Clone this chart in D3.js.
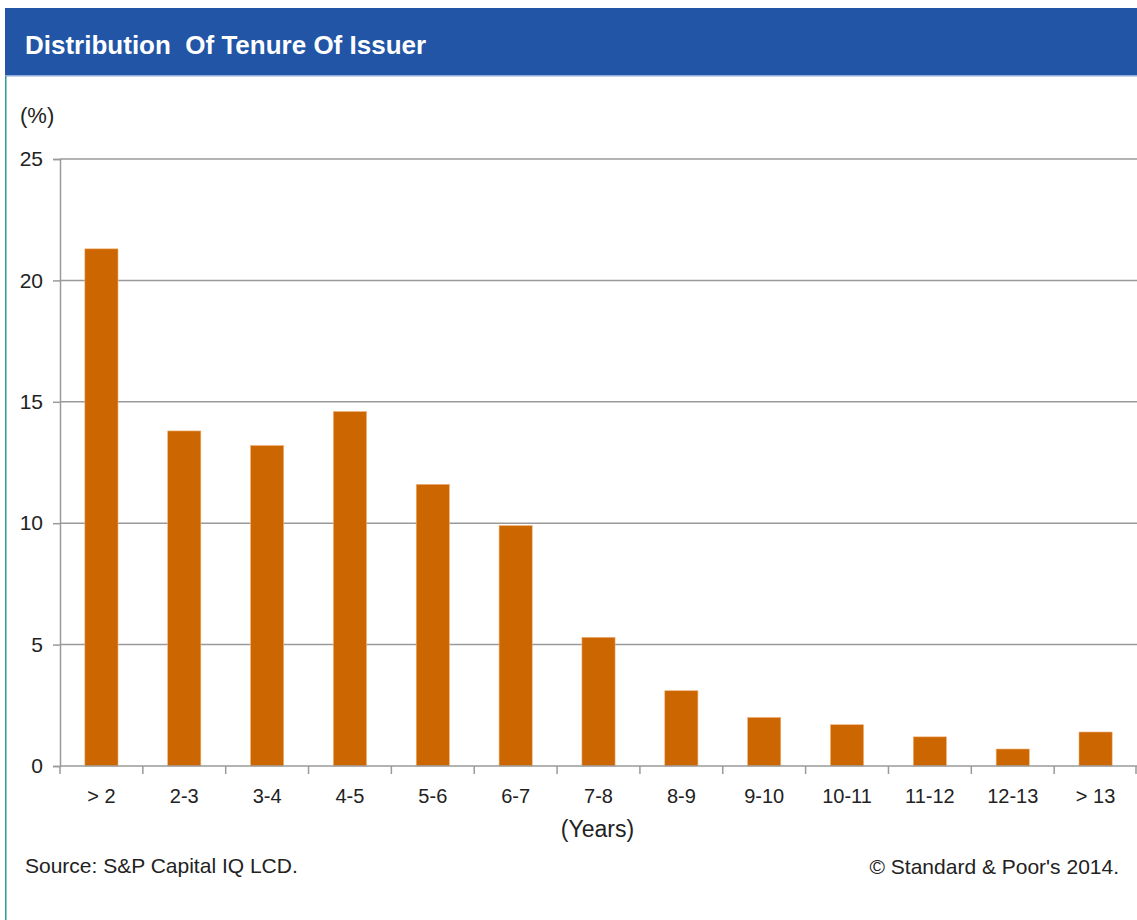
<!DOCTYPE html>
<html>
<head>
<meta charset="utf-8">
<script src="https://cdn.jsdelivr.net/npm/d3@7"></script>
<style>
  html, body { margin: 0; padding: 0; background: #fff; }
  svg { display: block; }
  text { font-family: "Liberation Sans", Arial, sans-serif; fill: #222; }
</style>
</head>
<body>
<svg id="chart" width="1137" height="920"></svg>
<script>
// Tenure buckets (years) and share of issuers (%)
const categories = ["> 2", "2-3", "3-4", "4-5", "5-6", "6-7", "7-8", "8-9", "9-10", "10-11", "11-12", "12-13", "> 13"];
const shares = [21.3, 13.8, 13.2, 14.6, 11.6, 9.9, 5.3, 3.1, 2.0, 1.7, 1.2, 0.7, 1.4];
const yTicks = [0, 5, 10, 15, 20, 25];

const titleText = "Distribution\u00A0 Of Tenure Of Issuer";
const unitText = "(%)";
const xTitleText = "(Years)";
const sourceText = "Source: S&P Capital IQ LCD.";
const copyrightText = "\u00A9 Standard & Poor's 2014.";

const W = 1137, H = 920;
const svg = d3.select("#chart");

// Header band
svg.append("rect").attr("x", 5).attr("y", 8).attr("width", W - 5).attr("height", 67).attr("fill", "#2255a5");
svg.append("rect").attr("x", 5).attr("y", 75).attr("width", W - 5).attr("height", 1.5).attr("fill", "#8eaadb");
svg.append("text").attr("x", 25).attr("y", 54)
  .attr("font-size", 26).attr("font-weight", "bold").style("fill", "#fff")
  .text(titleText);

// Left frame line
svg.append("rect").attr("x", 5).attr("y", 76).attr("width", 1.5).attr("height", H - 76).attr("fill", "#2a9a9a");

const plot = { left: 60, right: 1137, top: 159, bottom: 766 };

const x = d3.scaleBand().domain(categories)
  .range([plot.left, plot.right]).paddingInner(0.6).paddingOuter(0.3);
const y = d3.scaleLinear().domain([0, 25]).range([plot.bottom, plot.top]);

// Horizontal gridlines
svg.append("g").selectAll("line").data(yTicks.filter(d => d > 0)).join("line")
  .attr("x1", plot.left).attr("x2", plot.right)
  .attr("y1", d => y(d)).attr("y2", d => y(d))
  .attr("stroke", "#9a9a9a").attr("stroke-width", 1.5);

// Y axis
const yAxis = svg.append("g").attr("transform", `translate(${plot.left},0)`)
  .call(d3.axisLeft(y).tickValues(yTicks).tickSize(7).tickPadding(10).tickFormat(d3.format("d")));
yAxis.select(".domain").attr("stroke", "#9a9a9a").attr("stroke-width", 1.5);
yAxis.selectAll(".tick line").attr("stroke", "#9a9a9a").attr("stroke-width", 1.5);
yAxis.selectAll(".tick text").attr("font-size", 21).attr("font-family", "Liberation Sans, Arial, sans-serif").style("fill", "#222");

// Bars
svg.append("g").selectAll("rect").data(categories).join("rect")
  .attr("x", d => x(d))
  .attr("width", x.bandwidth())
  .attr("y", (d, i) => y(shares[i]))
  .attr("height", (d, i) => y(0) - y(shares[i]))
  .attr("fill", "#cc6600")
  .attr("stroke", "#f2b27a").attr("stroke-width", 0.6);

// X axis: baseline, category boundary ticks and labels
const gap = (x.step() - x.bandwidth()) / 2;
const bounds = categories.map(c => x(c) - gap).concat([plot.right]);
svg.append("line").attr("x1", plot.left).attr("x2", plot.right)
  .attr("y1", y(0)).attr("y2", y(0)).attr("stroke", "#9a9a9a").attr("stroke-width", 1.5);
svg.append("g").selectAll("line").data(bounds).join("line")
  .attr("x1", d => Math.min(d, W - 1)).attr("x2", d => Math.min(d, W - 1))
  .attr("y1", y(0)).attr("y2", y(0) + 8)
  .attr("stroke", "#9a9a9a").attr("stroke-width", 1.5);
svg.append("g").selectAll("text").data(categories).join("text")
  .attr("x", d => x(d) + x.bandwidth() / 2)
  .attr("y", 803)
  .attr("text-anchor", "middle").attr("font-size", 20)
  .text(d => d);

svg.append("text").attr("x", (plot.left + plot.right) / 2 - 1).attr("y", 837)
  .attr("text-anchor", "middle").attr("font-size", 23).text(xTitleText);

svg.append("text").attr("x", 20).attr("y", 123).attr("font-size", 22).text(unitText);

svg.append("text").attr("x", 25).attr("y", 873).attr("font-size", 21).text(sourceText);
svg.append("text").attr("x", 1119).attr("y", 874).attr("text-anchor", "end").attr("font-size", 21).text(copyrightText);
</script>
</body>
</html>
